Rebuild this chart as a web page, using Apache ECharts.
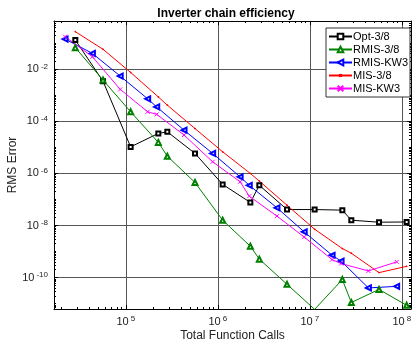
<!DOCTYPE html>
<html>
<head>
<meta charset="utf-8">
<script src="https://cdn.jsdelivr.net/npm/echarts@6/dist/echarts.min.js"></script>
<style>
html, body { margin: 0; padding: 0; background: #fff; }
#chart { width: 415px; height: 342px; }
</style>
</head>
<body>
<div id="chart"></div>
<script>
var seriesNames = [ 'Opt-3/8', 'RMIS-3/8', 'RMIS-KW3', 'MIS-3/8', 'MIS-KW3' ];

// function calls, 3/8 runs and KW3 runs
var calls38 = [ 2.83e4, 5.66e4, 1.13e5, 2.26e5, 2.83e5, 5.66e5, 1.13e6, 2.26e6,
		2.83e6, 5.66e6, 1.13e7, 2.26e7, 2.83e7, 5.66e7, 1.13e8 ];
var callsKW = [ 2.19e4, 4.34e4, 8.7e4, 1.73e5, 2.17e5, 4.3e5, 8.8e5, 1.75e6,
		2.2e6, 4.4e6, 8.7e6, 1.75e7, 2.19e7, 4.34e7, 8.8e7 ];

var opt38 = [ 1.34e-1, 3.5e-3, 1.05e-5, 3.45e-5, 3.98e-5, 5.9e-6, 3.8e-7, 7.7e-8,
		3.5e-7, 4.1e-8, 4.1e-8, 3.9e-8, 1.6e-8, 1.34e-8, 1.37e-8 ];
var rmis38 = [ 6.8e-2, 3.9e-3, 2.34e-4, 1.56e-5, 4.6e-6, 4.5e-7, 1.6e-8, 1.6e-9,
		5.1e-10, 5.5e-11, 6e-12, 8.4e-11, 1.1e-11, 3.5e-11, 8.6e-12 ];
var rmisKW3 = [ 0.146, 4.1e-2, 5.5e-3, 7.4e-4, 3.6e-4, 4.6e-5, 5.9e-6, 7.4e-7,
		3.5e-7, 4.8e-8, 5.7e-9, 7.2e-10, 4.3e-10, 4e-11, 4.6e-11 ];
var mis38 = [ 0.279, 5.9e-2, 7.6e-3, 8.7e-4, 4.2e-4, 5.3e-5, 6.8e-6, 1e-6,
		5.1e-7, 6e-8, 7.2e-9, 1.3e-9, 8.6e-10, 1.55e-10, 2.7e-10 ];
var misKW3 = [ 0.18, 3.05e-2, 1.7e-3, 2.34e-4, 1.86e-4, 3e-5, 2.8e-6, 4.8e-7,
		1.34e-7, 2.3e-8, 3.6e-9, 4.9e-10, 3.45e-10, 1.8e-10, 4e-10 ];

// tick labels
var xTicks = [ 1e5, 1e6, 1e7, 1e8 ];
var yTicks = [ 1e-10, 1e-8, 1e-6, 1e-4, 1e-2 ];

var xMin = 1.66e4, xMax = 1.26e8;
var yMin = 6.2e-12, yMax = 0.72;

var font = 'Liberation Sans';

function pairs(xs, ys) {
	var out = [];
	for (var i = 0; i < xs.length; i++) {
		out.push([ xs[i], ys[i] ]);
	}
	return out;
}

// small log ticks 1..9 x 10^k inside [min, max]
function minorValues(min, max) {
	var out = [];
	var lo = Math.floor(Math.log10(min)), hi = Math.ceil(Math.log10(max));
	for (var k = lo; k <= hi; k++) {
		for (var m = 1; m < 10; m++) {
			var v = m * Math.pow(10, k);
			if (v > min && v < max) {
				out.push(v);
			}
		}
	}
	return out;
}

function powLabel(v) {
	var e = Math.round(Math.log10(v));
	return '{b|10}{s|' + e + '}';
}

var richPow = {
	b : {
		fontFamily : font,
		fontSize : 11,
		color : '#222'
	},
	s : {
		fontFamily : font,
		fontSize : 8,
		color : '#222',
		padding : [ 0, 0, 6, 2 ]
	}
};

function mainAxis(pos, min, max, ticks) {
	return {
		type : 'log',
		logBase : 10,
		position : pos,
		min : min,
		max : max,
		axisLine : {
			show : true,
			onZero : false,
			lineStyle : {
				color : '#000',
				width : 1
			}
		},
		axisTick : {
			show : true,
			inside : true,
			length : 4,
			customValues : ticks,
			lineStyle : {
				color : '#000'
			}
		},
		splitLine : {
			show : true,
			lineStyle : {
				color : '#555',
				width : 1
			}
		},
		axisLabel : {
			formatter : powLabel,
			customValues : ticks,
			rich : richPow,
			margin : 6
		}
	};
}

function tickAxis(pos, min, max, ticks, len, line) {
	return {
		type : 'log',
		logBase : 10,
		position : pos,
		min : min,
		max : max,
		axisLine : {
			show : line,
			onZero : false,
			lineStyle : {
				color : '#000'
			}
		},
		axisTick : {
			show : true,
			inside : true,
			length : len,
			customValues : ticks,
			lineStyle : {
				color : '#000'
			}
		},
		splitLine : {
			show : false
		},
		axisLabel : {
			show : false
		}
	};
}

var xMain = mainAxis('bottom', xMin, xMax, xTicks);
xMain.name = 'Total Function Calls';
xMain.nameLocation = 'middle';
xMain.nameGap = 21;
xMain.nameMoveOverlap = false;
xMain.nameTextStyle = {
	fontFamily : font,
	fontSize : 12,
	color : '#222'
};

var yMain = mainAxis('left', yMin, yMax, yTicks);
yMain.name = 'RMS Error';
yMain.nameLocation = 'middle';
yMain.nameGap = 35;
yMain.nameMoveOverlap = false;
yMain.nameTextStyle = {
	fontFamily : font,
	fontSize : 12,
	color : '#222'
};

var xMinor = minorValues(xMin, xMax);
var yMinor = minorValues(yMin, yMax);

var xMarkPath = 'path://M0,0L10,10M10,0L0,10';
var dotPath = 'path://M0,0M10,10M4,4L6,4L6,6L4,6Z';

function lineSeries(name, xs, ys, color, symbol, size, rotate) {
	return {
		type : 'line',
		name : name,
		data : pairs(xs, ys),
		xAxisIndex : 0,
		yAxisIndex : 0,
		symbol : symbol,
		symbolSize : size,
		symbolRotate : rotate || 0,
		showAllSymbol : true,
		clip : true,
		lineStyle : {
			color : color,
			width : 1
		},
		itemStyle : {
			color : color,
			borderColor : color,
			borderWidth : 1
		},
		emphasis : {
			disabled : true
		},
		animation : false
	};
}

var chart = echarts.init(document.getElementById('chart'));
chart.setOption({
	backgroundColor : '#fff',
	animation : false,
	title : {
		text : 'Inverter chain efficiency',
		left : 221,
		top : 3,
		textAlign : 'center',
		textStyle : {
			fontFamily : font,
			fontSize : 12,
			fontWeight : 'bold',
			color : '#000'
		}
	},
	grid : {
		left : 54,
		right : 4,
		top : 21,
		bottom : 33,
		containLabel : false,
		outerBoundsMode : 'none'
	},
	legend : {
		data : seriesNames,
		orient : 'vertical',
		right : 5,
		top : 28,
		itemGap : 0,
		itemWidth : 23,
		itemHeight : 7,
		padding : [ 2, 2, 2, 2 ],
		borderColor : '#333',
		borderWidth : 1,
		backgroundColor : '#fff',
		textStyle : {
			fontFamily : font,
			fontSize : 11,
			color : '#000',
			lineHeight : 13,
			padding : [ 0, 0, 0, -4 ]
		}
	},
	xAxis : [ xMain,
			tickAxis('top', xMin, xMax, xTicks, 4, true),
			tickAxis('bottom', xMin, xMax, xMinor, 2, false),
			tickAxis('top', xMin, xMax, xMinor, 2, false) ],
	yAxis : [ yMain,
			tickAxis('right', yMin, yMax, yTicks, 4, true),
			tickAxis('left', yMin, yMax, yMinor, 2, false),
			tickAxis('right', yMin, yMax, yMinor, 2, false) ],
	series : [
			lineSeries(seriesNames[0], calls38, opt38, '#000000', 'emptyRect', 4),
			lineSeries(seriesNames[1], calls38, rmis38, '#008000', 'emptyTriangle', 5),
			lineSeries(seriesNames[2], callsKW, rmisKW3, '#0000ff', 'emptyTriangle', 5, 90),
			lineSeries(seriesNames[3], calls38, mis38, '#ff0000', dotPath, 4),
			lineSeries(seriesNames[4], callsKW, misKW3, '#ff00ff', xMarkPath, 4) ]
});
</script>
</body>
</html>
